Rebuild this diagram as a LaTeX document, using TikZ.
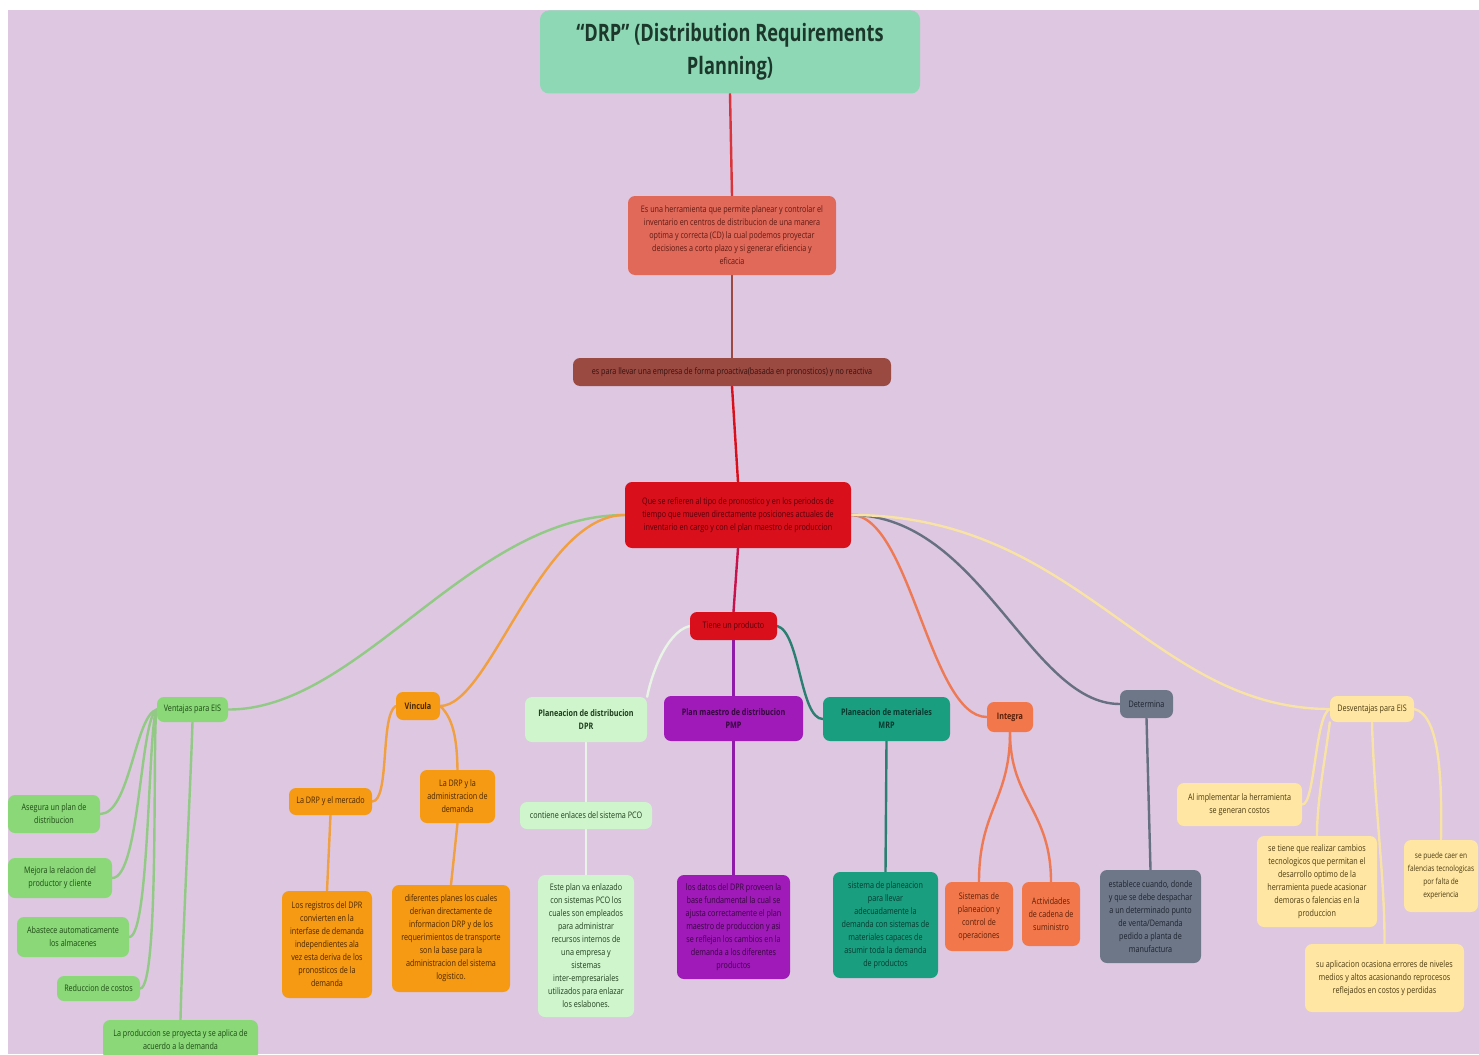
\documentclass[tikz,border=0pt]{standalone}
\usepackage{fontspec}
\setmainfont{Open Sans}[FakeStretch=0.8]
\newfontfamily\headfont{Open Sans}[FakeStretch=0.76]
\usetikzlibrary{positioning}
\pgfdeclarelayer{paper}
\pgfdeclarelayer{back}
\pgfsetlayers{paper,back,main}

% palette
\definecolor{paperc}{HTML}{DDC7E1}
\definecolor{mint}{HTML}{8ED8B6}
\definecolor{mintT}{HTML}{1C382B}
\definecolor{salmon}{HTML}{E0695A}
\definecolor{salmonT}{HTML}{5E1A12}
\definecolor{brownr}{HTML}{9B4A42}
\definecolor{brownrT}{HTML}{35110E}
\definecolor{redc}{HTML}{D90F1C}
\definecolor{redcT}{HTML}{55000A}
\definecolor{venc}{HTML}{8AD878}
\definecolor{vencT}{HTML}{1E4A14}
\definecolor{venL}{HTML}{92C985}
\definecolor{vinc}{HTML}{F59A12}
\definecolor{vincT}{HTML}{4A2600}
\definecolor{vinL}{HTML}{F0A040}
\definecolor{dprc}{HTML}{CFF5CC}
\definecolor{dprcT}{HTML}{1E3E1C}
\definecolor{dprL}{HTML}{E9F3E6}
\definecolor{pmpc}{HTML}{9F1AB8}
\definecolor{pmpcT}{HTML}{36063F}
\definecolor{pmpL}{HTML}{8E1CA8}
\definecolor{mrpc}{HTML}{1A9E80}
\definecolor{mrpcT}{HTML}{053A2E}
\definecolor{mrpL}{HTML}{2A7E72}
\definecolor{intc}{HTML}{F2784B}
\definecolor{intcT}{HTML}{5A1F08}
\definecolor{intL}{HTML}{EE7A55}
\definecolor{detc}{HTML}{6E7787}
\definecolor{detcT}{HTML}{1C2330}
\definecolor{detL}{HTML}{667080}
\definecolor{desc}{HTML}{FFE6A3}
\definecolor{descT}{HTML}{4A3A10}
\definecolor{desL}{HTML}{F8E2A6}
\definecolor{trunk}{HTML}{D8343A}

\newcommand\boxfs{\fontsize{9}{13}\selectfont}

\tikzset{
  card/.style={rounded corners=7pt, align=center, inner sep=2pt, font=\boxfs},
  mapcard/.style 2 args={card, fill=#1, text=#2},
  link/.style={line width=2.4pt, line cap=round},
}

\begin{document}
\begin{tikzpicture}[x=1pt, y=-1pt]
\useasboundingbox (0,0) rectangle (1479,1054);
\clip (0,0) rectangle (1479,1054);
\begin{pgfonlayer}{paper}
  \fill[white] (0,0) rectangle (1479,1054);
  \fill[paperc] (8,10) rectangle (1479,1054);
\end{pgfonlayer}

% ---------- central trunk ----------
\node[mapcard={mint}{mintT}, rounded corners=9pt, minimum width=380, minimum height=83,
      font=\headfont\bfseries\fontsize{24}{33}\selectfont] (root) at (730,52)
  {“DRP” (Distribution Requirements\\Planning)};
\node[mapcard={salmon}{salmonT}, minimum width=208, minimum height=79] (def) at (732,235.5)
  {Es una herramienta que permite planear y controlar el\\inventario en centros de distribucion de una manera\\optima y correcta (CD) la cual podemos proyectar\\decisiones a corto plazo y si generar eficiencia y\\eficacia};
\node[mapcard={brownr}{brownrT}, minimum width=318, minimum height=28] (goal) at (732,372)
  {es para llevar una empresa de forma proactiva(basada en pronosticos) y no reactiva};
\node[mapcard={redc}{redcT}, minimum width=226, minimum height=66] (hub) at (738,515)
  {Que se refieren al tipo de pronostico y en los periodos de\\tiempo que mueven directamente posiciones actuales de\\inventario en cargo y con el plan maestro de produccion};
\node[mapcard={redc}{redcT}, minimum width=87, minimum height=28] (prod) at (733.5,626)
  {Tiene un producto};

% ---------- first level ----------
\node[mapcard={venc}{vencT}, minimum width=71, minimum height=25] (ven) at (192.5,709.5) {Ventajas para EIS};
\node[mapcard={vinc}{vincT}, minimum width=44, minimum height=28, font=\boxfs\bfseries] (vin) at (418,706) {Vincula};
\node[mapcard={dprc}{dprcT}, minimum width=122, minimum height=45, font=\boxfs\bfseries] (dpr) at (586,719.5) {Planeacion de distribucion\\DPR};
\node[mapcard={pmpc}{pmpcT}, minimum width=139, minimum height=45, font=\boxfs\bfseries] (pmp) at (733.5,718.5) {Plan maestro de distribucion\\PMP};
\node[mapcard={mrpc}{mrpcT}, minimum width=127, minimum height=44, font=\boxfs\bfseries] (mrp) at (886.5,719) {Planeacion de materiales\\MRP};
\node[mapcard={intc}{intcT}, minimum width=46, minimum height=30, font=\boxfs\bfseries] (int) at (1010,717) {Integra};
\node[mapcard={detc}{detcT}, minimum width=53, minimum height=28] (det) at (1146.5,704) {Determina};
\node[mapcard={desc}{descT}, minimum width=84, minimum height=26] (des) at (1372,709) {Desventajas para EIS};

% ---------- ventajas ----------
\node[mapcard={venc}{vencT}, minimum width=92, minimum height=38] (a1) at (54,814) {Asegura un plan de\\distribucion};
\node[mapcard={venc}{vencT}, minimum width=104, minimum height=40] (a2) at (60,878) {Mejora la relacion del\\productor y cliente};
\node[mapcard={venc}{vencT}, minimum width=112, minimum height=40] (a3) at (73,937) {Abastece automaticamente\\los almacenes};
\node[mapcard={venc}{vencT}, minimum width=83, minimum height=25] (a4) at (98.5,988.5) {Reduccion de costos};
\node[mapcard={venc}{vencT}, minimum width=155, minimum height=40] (a5) at (180.5,1040) {La produccion se proyecta y se aplica de\\acuerdo a la demanda};

% ---------- vincula ----------
\node[mapcard={vinc}{vincT}, minimum width=83, minimum height=27] (b1) at (330.5,801.5) {La DRP y el mercado};
\node[mapcard={vinc}{vincT}, minimum width=75, minimum height=53] (b2) at (457.5,796.5) {La DRP y la\\administracion de\\demanda};
\node[mapcard={vinc}{vincT}, minimum width=90, minimum height=107] (b3) at (327,944.5) {Los registros del DPR\\convierten en la\\interfase de demanda\\independientes ala\\vez esta deriva de los\\pronosticos de la\\demanda};
\node[mapcard={vinc}{vincT}, minimum width=118, minimum height=107] (b4) at (451,938.5) {diferentes planes los cuales\\derivan directamente de\\informacion DRP y de los\\requerimientos de transporte\\son la base para la\\administracion del sistema\\logistico.};

% ---------- planeacion de distribucion ----------
\node[mapcard={dprc}{dprcT}, minimum width=132, minimum height=27] (c1) at (586,815.5) {contiene enlaces del sistema PCO};
\node[mapcard={dprc}{dprcT}, minimum width=96, minimum height=142] (c2) at (586,946) {Este plan va enlazado\\con sistemas PCO los\\cuales son empleados\\para administrar\\recursos internos de\\una empresa y\\sistemas\\inter-empresariales\\utilizados para enlazar\\los eslabones.};

% ---------- plan maestro / materiales ----------
\node[mapcard={pmpc}{pmpcT}, minimum width=113, minimum height=104] (p1) at (733.5,927) {los datos del DPR proveen la\\base fundamental la cual se\\ajusta correctamente el plan\\maestro de produccion y asi\\se reflejan los cambios en la\\demanda a los diferentes\\productos};
\node[mapcard={mrpc}{mrpcT}, minimum width=105, minimum height=106] (m1) at (885.5,925) {sistema de planeacion\\para llevar\\adecuadamente la\\demanda con sistemas de\\materiales capaces de\\asumir toda la demanda\\de productos};

% ---------- integra / determina ----------
\node[mapcard={intc}{intcT}, minimum width=68, minimum height=69] (i1) at (979,916.5) {Sistemas de\\planeacion y\\control de\\operaciones};
\node[mapcard={intc}{intcT}, minimum width=58, minimum height=64] (i2) at (1051,914) {Actividades\\de cadena de\\suministro};
\node[mapcard={detc}{detcT}, minimum width=101, minimum height=93] (d1) at (1150.5,916.5) {establece cuando, donde\\y que se debe despachar\\a un determinado punto\\de venta/Demanda\\pedido a planta de\\manufactura};

% ---------- desventajas ----------
\node[mapcard={desc}{descT}, minimum width=125, minimum height=43] (e1) at (1239.5,804.5) {Al implementar la herramienta\\se generan costos};
\node[mapcard={desc}{descT}, minimum width=120, minimum height=91] (e2) at (1317,881.5) {se tiene que realizar cambios\\tecnologicos que permitan el\\desarrollo optimo de la\\herramienta puede acasionar\\demoras o falencias en la\\produccion};
\node[mapcard={desc}{descT}, minimum width=74, minimum height=72, inner sep=1pt,
      font=\fontsize{8.2}{13}\selectfont] (e3) at (1441,876) {se puede caer en\\falencias tecnologicas\\por falta de\\experiencia};
\node[mapcard={desc}{descT}, minimum width=159, minimum height=68] (e4) at (1384.5,978) {su aplicacion ocasiona errores de niveles\\medios y altos acasionando reprocesos\\reflejados en costos y perdidas};

% ---------- connectors ----------
\begin{pgfonlayer}{back}
  \draw[link, trunk] (root.south) -- (def.north);
  \draw[link, brownr] (def.south) -- (goal.north);
  \draw[link, redc] (goal.south) -- (hub.north);
  \draw[link, redc!70!pmpc] (hub.south) -- (prod.north);

  \draw[link, venL] (hub.west) .. controls (470,515) and (360,710) .. (ven.east);
  \draw[link, vinL] (hub.west) .. controls (540,515) and (490,706) .. (vin.east);
  \draw[link, intL] (hub.east) .. controls (910,515) and (930,717) .. (int.west);
  \draw[link, detL] (hub.east) .. controls (980,515) and (1030,704) .. (det.west);
  \draw[link, desL] (hub.east) .. controls (1080,515) and (1150,709) .. (des.west);

  \draw[link, dprL] (prod.west) .. controls (665,632) and (650,680) .. (dpr.north east);
  \draw[link, pmpL] (prod.south) -- (pmp.north);
  \draw[link, mrpL] (prod.east) .. controls (800,632) and (800,719) .. (mrp.west);

  \draw[link, venL] (ven.west) .. controls (135,715) and (130,814) .. (a1.east);
  \draw[link, venL] (ven.west) .. controls (140,718) and (140,878) .. (a2.east);
  \draw[link, venL] (ven.west) .. controls (148,720) and (150,937) .. (a3.east);
  \draw[link, venL] (ven.west) .. controls (152,722) and (160,988) .. (a4.east);
  \draw[link, venL] (ven.south) .. controls (190,800) and (182,950) .. (a5.north);

  \draw[link, vinL] (vin.west) .. controls (380,715) and (390,801) .. (b1.east);
  \draw[link, vinL] (vin.east) .. controls (455,720) and (457,745) .. (b2.north);
  \draw[link, vinL] (b1.south) -- (b3.north);
  \draw[link, vinL] (b2.south) -- (b4.north);

  \draw[link, dprL] (dpr.south) -- (c1.north);
  \draw[link, dprL] (c1.south) -- (c2.north);

  \draw[link, pmpL] (pmp.south) -- (p1.north);
  \draw[link, mrpL] (mrp.south) -- (m1.north);

  \draw[link, intL] (int.south) .. controls (1010,800) and (979,810) .. (i1.north);
  \draw[link, intL] (int.south) .. controls (1010,800) and (1051,810) .. (i2.north);
  \draw[link, detL] (det.south) -- (d1.north);

  \draw[link, desL] (des.west) .. controls (1315,715) and (1315,805) .. (e1.east);
  \draw[link, desL] (des.south west) .. controls (1325,760) and (1317,800) .. (e2.north);
  \draw[link, desL] (des.south) .. controls (1374,800) and (1385,880) .. (e4.north);
  \draw[link, desL] (des.east) .. controls (1440,715) and (1442,780) .. (e3.north);
\end{pgfonlayer}
\end{tikzpicture}
\end{document}
